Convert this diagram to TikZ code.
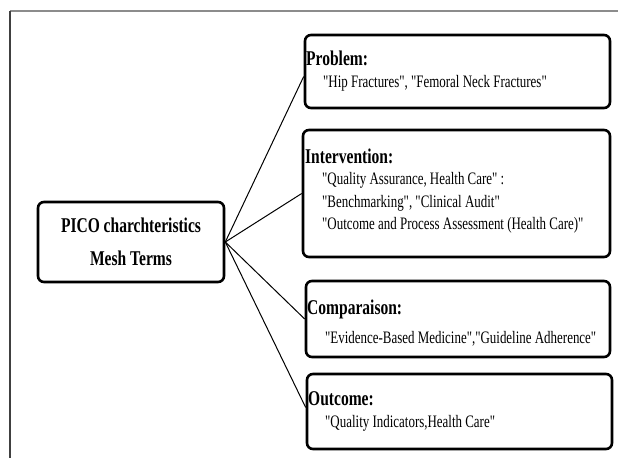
\documentclass[tikz,border=0pt]{standalone}
\usepackage{fontspec}
\setmainfont{Liberation Serif}[FakeStretch=0.74, Ligatures=TeXOff]

\tikzset{
  box/.style={draw, line width=2.6pt, rounded corners=6pt, inner sep=0pt},
  head/.style={anchor=west, inner sep=0pt, font=\fontsize{21}{25}\selectfont\bfseries},
  item/.style={anchor=west, inner sep=0pt, font=\fontsize{17.5}{22}\selectfont},
}

\begin{document}
\begin{tikzpicture}[x=1pt,y=-1pt]
        \useasboundingbox (0,0) rectangle (618,458);
        % frame
        \draw[black!45, line width=1.5pt] (10,11) -- (618,11);
        \draw[black!75, line width=2pt] (10,11) -- (10,458);
        % boxes
        \node[box, minimum width=186, minimum height=80, align=center,
              font=\fontsize{21}{33}\selectfont\bfseries] (pico) at (131,242)
              {PICO charchteristics\\Mesh Terms};
        \node[box, minimum width=305, minimum height=73] (prob) at (457.5,71.5) {};
        \node[box, minimum width=307, minimum height=127] (inter) at (456.5,193.5) {};
        \node[box, minimum width=304, minimum height=76] (comp) at (458,319) {};
        \node[box, minimum width=305, minimum height=75] (outc) at (459.5,411.5) {};
        % texts
        \node[head] (probh) at (306,58) {Problem:};
        \node[item] (probt) at (323,83) {"Hip Fractures", "Femoral Neck Fractures"};
        \node[head] (interh) at (305,156) {Intervention:};
        \node[item] (intera) at (322,180) {"Quality Assurance, Health Care" :};
        \node[item] (interb) at (322,203) {"Benchmarking", "Clinical Audit"};
        \node[item] (interc) at (322,225) {"Outcome and Process Assessment (Health Care)"};
        \node[head] (comph) at (307,309) {Comparaison:};
        \node[item] (compt) at (325,339) {"Evidence-Based Medicine","Guideline Adherence"};
        \node[head] (outch) at (308,399) {Outcome:};
        \node[item] (outct) at (325,423) {"Quality Indicators,Health Care"};
        % links
        \draw[line width=1pt] (pico.east) -- ([yshift=-5pt]prob.west);
        \draw[line width=1pt] (pico.east) -- (inter.west);
        \draw[line width=1pt] (pico.east) -- (comp.west);
        \draw[line width=1pt] (pico.east) -- ([yshift=4pt]outc.west);
      \end{tikzpicture}
\end{document}
